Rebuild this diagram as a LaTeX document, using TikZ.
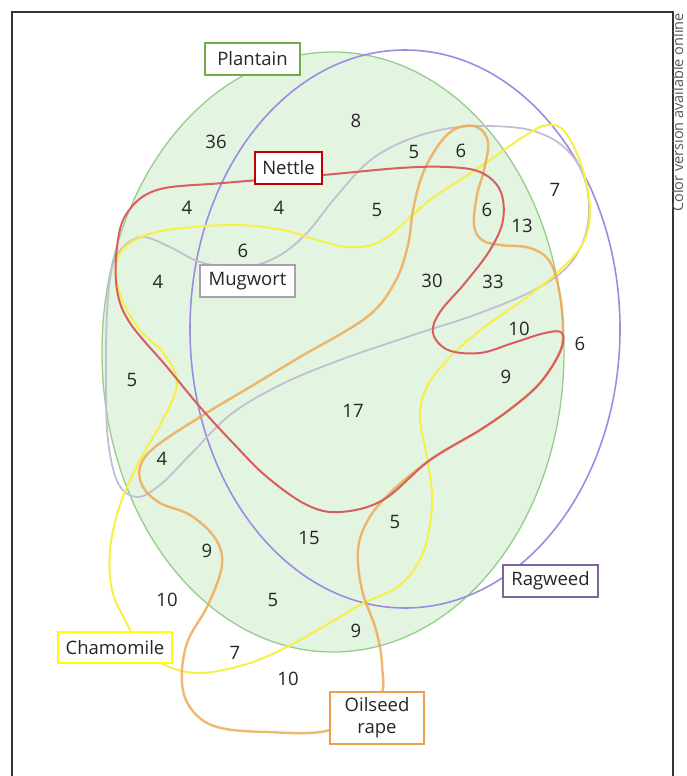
\documentclass[tikz,border=0pt]{standalone}
\usepackage{fontspec}
\setmainfont{Open Sans}
\definecolor{plfill}{RGB}{227,244,225}
\definecolor{plline}{RGB}{150,205,140}
\definecolor{plbox}{RGB}{112,173,71}
\definecolor{rwline}{RGB}{155,140,225}
\definecolor{rwbox}{RGB}{128,100,162}
\definecolor{ntline}{RGB}{215,95,95}
\definecolor{ntbox}{RGB}{192,0,0}
\definecolor{mgline}{RGB}{196,190,210}
\definecolor{mgbox}{RGB}{168,160,172}
\definecolor{chline}{RGB}{245,240,70}
\definecolor{chbox}{RGB}{255,255,0}
\definecolor{osline}{RGB}{238,170,85}
\definecolor{osbox}{RGB}{232,160,80}
\begin{document}
\begin{tikzpicture}[x=1pt,y=-1pt,
  lbl/.style={draw, fill=white, line width=2pt, inner sep=0pt, minimum height=32pt,
    font=\fontsize{18.5}{22}\selectfont, align=center, text=black!85},
  num/.style={font=\fontsize{18.5}{22}\selectfont, inner sep=0pt, text=black!85},
  curve/.style={line width=2pt, line join=round}]
\useasboundingbox (0,0) rectangle (686,776);
% frame
\draw[line width=1.2pt, black!80] (12,776) -- (12,12) -- (673,12) -- (673,776);
\node[rotate=90, anchor=base west, font=\fontsize{14.5}{17}\selectfont, text=black!65, inner sep=0pt] (cv) at (683,212) {Color version available online};
% Plantain
\fill[plfill] (333,352) ellipse [x radius=231pt, y radius=300pt];
\draw[plline, line width=1.3pt] (333,352) ellipse [x radius=231pt, y radius=300pt];
% Ragweed
\draw[rwline, line width=1.6pt] (405,329) ellipse [x radius=215pt, y radius=279pt];
% Mugwort
\draw[curve, mgline, line width=1.8pt] plot[smooth cycle, tension=0.6] coordinates {
 (123,247) (143,237) (170,247) (200,262) (240,268) (275,258) (305,235) (335,198)
 (367,163) (400,143) (440,130) (480,126) (530,130) (565,148) (585,180) (588,223)
 (573,260) (540,287) (480,313) (413,335) (340,360) (280,385) (230,415) (190,455)
 (160,485) (137,497) (118,483) (108,440) (106,380) (107,313) (112,268)};
% Chamomile
\draw[curve, chline] plot[smooth cycle, tension=0.6] coordinates {
 (120,253) (135,240) (167,230) (233,225) (283,230) (317,240) (350,247) (383,240)
 (430,200) (480,167) (523,137) (547,125) (565,132) (582,167) (590,210) (583,243)
 (560,270) (527,297) (490,323) (455,352) (428,385) (420,417) (428,463) (432,505)
 (423,553) (400,585) (360,605) (300,640) (250,663) (200,673) (165,665) (140,645)
 (125,620) (112,590) (110,550) (120,505) (140,460) (160,425) (177,385) (165,355)
 (140,330) (122,300) (116,272)};
% Oilseed rape
\draw[curve, osline, line width=2.4pt, opacity=0.85] plot[smooth cycle, tension=0.6] coordinates {
 (413,210) (423,173) (440,143) (457,128) (477,127) (488,142) (484,170) (477,195)
 (474,225) (482,240) (500,245) (530,248) (550,262) (560,295) (563,335) (558,356)
 (540,383) (513,407) (480,430) (430,460) (390,493) (368,520) (358,550) (362,590)
 (376,630) (382,665) (378,700) (330,730) (267,732) (217,727) (192,710) (182,683)
 (187,643) (208,605) (222,565) (215,538) (190,515) (160,503) (143,487) (140,467)
 (155,447) (200,417) (250,387) (300,357) (367,317) (395,282) (408,245)};
% Nettle
\draw[curve, ntline] plot[smooth cycle, tension=0.6] coordinates {
 (157,190) (223,183) (323,175) (400,168) (447,167) (480,172) (500,190) (503,220)
 (490,250) (465,283) (440,312) (433,333) (448,350) (480,353) (513,343) (545,333)
 (562,333) (560,352) (540,383) (513,407) (480,430) (430,460) (383,500) (340,512)
 (307,505) (267,477) (233,443) (200,407) (167,367) (130,323) (117,290) (117,247)
 (127,213)};
% labels
\node[lbl, draw=plbox, minimum width=95pt] (plantain) at (252.5,59) {Plantain};
\node[lbl, draw=ntbox, minimum width=67pt] (nettle) at (288.5,168) {Nettle};
\node[lbl, draw=mgbox, minimum width=95pt] (mugwort) at (247.5,281) {Mugwort};
\node[lbl, draw=chbox, minimum width=114pt, minimum height=31pt] (chamomile) at (115,647.5) {Chamomile};
\node[lbl, draw=osbox, minimum width=94pt, minimum height=52pt] (oilseed) at (377,718) {Oilseed\\rape};
\node[lbl, draw=rwbox, minimum width=95pt] (ragweed) at (550.5,581) {Ragweed};
% numbers
\node[num] (a1) at (216,142) {36};
\node[num] (a2) at (356,121) {8};
\node[num] (a3) at (414,152) {5};
\node[num] (a4) at (461,151) {6};
\node[num] (a5) at (555,190) {7};
\node[num] (a6) at (187,208) {4};
\node[num] (a7) at (279,208) {4};
\node[num] (a8) at (377,210) {5};
\node[num] (a9) at (487,210) {6};
\node[num] (a10) at (522,226) {13};
\node[num] (a11) at (243,251) {6};
\node[num] (a12) at (158,282) {4};
\node[num] (a13) at (432,281) {30};
\node[num] (a14) at (493,282) {33};
\node[num] (a15) at (519,329) {10};
\node[num] (a16) at (580,344) {6};
\node[num] (a17) at (506,377) {9};
\node[num] (a18) at (132,380) {5};
\node[num] (a19) at (353,411) {17};
\node[num] (a20) at (162,459) {4};
\node[num] (a21) at (395,522) {5};
\node[num] (a22) at (309,538) {15};
\node[num] (a23) at (207,551) {9};
\node[num] (a24) at (167,600) {10};
\node[num] (a25) at (273,600) {5};
\node[num] (a26) at (356,631) {9};
\node[num] (a27) at (235,653) {7};
\node[num] (a28) at (288,679) {10};
\end{tikzpicture}
\end{document}
